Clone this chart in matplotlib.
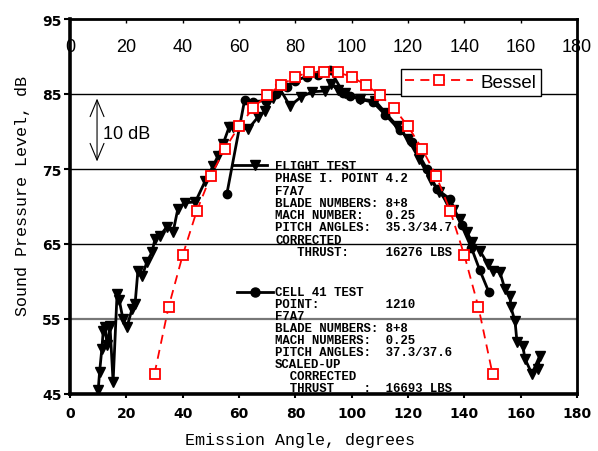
import matplotlib
matplotlib.use("Agg")
import matplotlib.pyplot as plt
from matplotlib.lines import Line2D

# ---------------- data ----------------
bessel_x = [30, 35, 40, 45, 50, 55, 60, 65, 70, 75, 80, 85, 90,
            95, 100, 105, 110, 115, 120, 125, 130, 135, 140, 145, 150]
bessel_y = [47.7, 56.6, 63.5, 69.4, 74.1, 77.7, 80.7, 83.1, 84.9, 86.2, 87.3, 87.9, 87.9,
            87.9, 87.3, 86.2, 84.9, 83.1, 80.7, 77.7, 74.1, 69.4, 63.5, 56.6, 47.7]

flight_x = [10.0, 10.5, 11.3, 11.8, 12.4, 13.2, 14.2, 15.3, 16.7, 17.5, 18.8, 20.2,
            22.0, 23.1, 24.1, 25.6, 27.3, 29.1, 30.2, 32.0, 34.4, 36.6, 38.3, 40.8,
            44.5, 48.0, 50.8, 52.5, 54.3, 56.5, 58.0, 63.2, 66.7, 69.2, 72.0, 74.5,
            78.1, 82.0, 86.0, 90.5, 92.8, 95.0, 97.6, 103.0, 108.3, 112.0, 116.0,
            120.0, 124.0, 128.0, 131.0, 133.8, 136.0, 138.4, 140.9, 142.7, 145.5,
            148.4, 150.0, 152.6, 154.4, 156.2, 156.5, 158.0, 158.7, 160.8, 161.5,
            164.0, 166.8, 166.1]
flight_y = [45.5, 47.9, 51.0, 53.4, 53.9, 51.5, 54.1, 46.6, 58.3, 57.5, 55.0, 53.9,
            56.3, 57.0, 61.4, 60.7, 62.6, 63.9, 65.7, 66.1, 67.3, 66.6, 69.7, 70.5,
            70.6, 73.4, 75.4, 76.7, 78.3, 80.6, 80.6, 80.3, 81.9, 82.7, 84.5, 85.7,
            83.4, 84.6, 85.3, 85.4, 86.3, 85.6, 85.2, 84.3, 84.1, 82.5, 80.8,
            79.0, 76.3, 73.6, 72.0, 70.7, 69.5, 68.3, 66.6, 65.3, 64.1,
            62.3, 61.4, 61.3, 59.0, 58.1, 56.6, 54.7, 51.9, 51.4, 49.7,
            47.7, 50.1, 48.3]

cell_x = [55.7, 62.0, 65.0, 69.6, 73.0, 77.0, 80.0, 84.0, 88.0, 92.3, 97.0, 99.5,
          103.0, 107.6, 112.0, 117.0, 121.4, 126.7, 130.3, 134.9, 139.0, 142.5,
          145.5, 148.7]
cell_y = [71.7, 84.2, 84.0, 84.1, 85.0, 86.0, 86.8, 87.3, 87.6, 88.2, 85.2, 84.7,
          84.3, 83.9, 82.2, 80.2, 78.6, 75.0, 72.3, 71.0, 67.5, 64.5,
          61.5, 58.6]

x_ticks = [0, 20, 40, 60, 80, 100, 120, 140, 160, 180]
y_ticks = [45, 55, 65, 75, 85, 95]
grid_levels = [85, 75, 65]
grid_gray = [55]

flight_text = ["FLIGHT TEST",
               "PHASE I. POINT 4.2",
               "F7A7",
               "BLADE NUMBERS: 8+8",
               "MACH NUMBER:   0.25",
               "PITCH ANGLES:  35.3/34.7",
               "CORRECTED",
               "   THRUST:     16276 LBS"]
cell_text = ["CELL 41 TEST",
             "POINT:         1210",
             "F7A7",
             "BLADE NUMBERS: 8+8",
             "MACH NUMBERS:  0.25",
             "PITCH ANGLES:  37.3/37.6",
             "SCALED-UP",
             "  CORRECTED",
             "  THRUST    :  16693 LBS"]

# ---------------- figure ----------------
W, H = 598, 452
fig = plt.figure(figsize=(W / 100, H / 100), dpi=100)
L, R, T, B = 70, 577, 20, 395
ax = fig.add_axes([L / W, 1 - B / H, (R - L) / W, (B - T) / H])
ax.set_xlim(0, 180)
ax.set_ylim(45, 95)

def px2ax(px, py):
    return (px - L) / (R - L), (B - py) / (B - T)

# grid lines
for g in grid_levels:
    ax.axhline(g, color="black", lw=1.0, zorder=1)
for g in grid_gray:
    ax.axhline(g, color="#777777", lw=1.6, zorder=1)

# Bessel
ax.plot(bessel_x, bessel_y, color="red", lw=1.3, linestyle=(0, (5, 3.5)),
        marker="s", markersize=7.5, markerfacecolor="white", markeredgecolor="red",
        markeredgewidth=1.3, label="Bessel", zorder=4)

# flight test
ax.plot(flight_x, flight_y, color="black", lw=2.0, marker="v", markersize=7,
        zorder=3)
# cell 41 test
ax.plot(cell_x, cell_y, color="black", lw=2.0, marker="o", markersize=6,
        zorder=3)

# spines
for s in ["left", "bottom"]:
    ax.spines[s].set_linewidth(2.6)
for s in ["top", "right"]:
    ax.spines[s].set_linewidth(2.0)

ax.set_xticks(x_ticks)
ax.set_yticks(y_ticks)
ax.set_yticklabels([str(v) for v in y_ticks])
ax.tick_params(axis="x", direction="out", length=3, width=1.5, pad=6,
               labelsize=10)
ax.tick_params(axis="y", direction="out", length=4, width=1.5, pad=2,
               labelsize=10)
for lab in ax.get_xticklabels() + ax.get_yticklabels():
    lab.set_fontweight("bold")
    lab.set_family("DejaVu Sans")

# top axis with labels inside
sec = ax.secondary_xaxis("top")
sec.set_xticks(x_ticks)
sec.tick_params(direction="in", length=3, width=1.0, pad=-26, labelsize=13)
for lab in sec.get_xticklabels():
    lab.set_family("Liberation Sans")
sec.spines["top"].set_visible(False)

# axis labels
ax.set_xlabel("Emission Angle, degrees", family="Liberation Mono", fontsize=12)
ax.xaxis.set_label_coords(*px2ax(300, 433))
ax.set_ylabel("Sound Pressure Level, dB", family="Liberation Mono", fontsize=12)
ax.yaxis.set_label_coords(*px2ax(30, 196))

# 10 dB arrow
ax.annotate("", xy=(9.6, 84.4), xytext=(9.6, 76.0),
            arrowprops=dict(arrowstyle="<->,head_length=1.2,head_width=0.5",
                            lw=0.8, color="black", shrinkA=0, shrinkB=0))
ax.text(11.6, 79.7, "10 dB", family="Liberation Sans", fontsize=13,
        ha="left", va="center")

# legend
leg = ax.legend(loc="upper right", bbox_to_anchor=px2ax(541, 70), borderaxespad=0,
                fancybox=False, edgecolor="black", framealpha=1,
                prop={"family": "Liberation Sans", "size": 13.5},
                handlelength=3.6, handletextpad=0.4, borderpad=0.25, numpoints=1)
leg.get_frame().set_linewidth(1.0)

# text blocks
mono = dict(family="Liberation Mono", fontweight="bold", fontsize=8.9,
            transform=ax.transAxes, ha="left", va="center")
for i, line in enumerate(flight_text):
    ax.text(*px2ax(275, 167 + i * 12.3), line, **mono)
for i, line in enumerate(cell_text):
    ax.text(*px2ax(275, 293 + i * 12.0), line, **mono)

# legend keys for the text blocks
k1 = Line2D([px2ax(233, 0)[0], px2ax(267, 0)[0]], [px2ax(0, 166)[1]] * 2,
            transform=ax.transAxes, color="black", lw=2.0)
k1m = Line2D([px2ax(255, 0)[0]], [px2ax(0, 166)[1]], transform=ax.transAxes,
             color="black", marker="v", markersize=7, lw=0)
k2 = Line2D([px2ax(237, 0)[0], px2ax(273, 0)[0]], [px2ax(0, 293)[1]] * 2,
            transform=ax.transAxes, color="black", lw=2.0)
k2m = Line2D([px2ax(255, 0)[0]], [px2ax(0, 293)[1]], transform=ax.transAxes,
             color="black", marker="o", markersize=6.5, lw=0)
for a in (k1, k1m, k2, k2m):
    ax.add_line(a)

fig.savefig("out.png", dpi=100)
